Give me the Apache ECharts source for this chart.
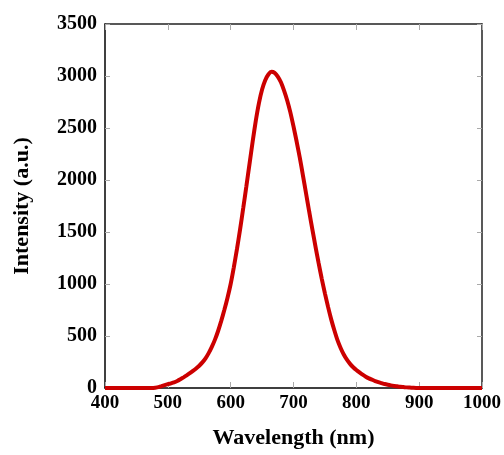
<!DOCTYPE html>
<html>
<head>
<meta charset="utf-8">
<script src="https://cdn.jsdelivr.net/npm/echarts@6/dist/echarts.min.js"></script>
<style>
html,body{margin:0;padding:0;background:#fff;}
#chart{width:504px;height:455px;}
</style>
</head>
<body>
<div id="chart"></div>
<script>
const wavelengths = [400,420,440,460,475,480,485,490,495,500,505,510,515,520,525,530,535,540,545,550,555,560,565,570,575,580,585,590,595,600,605,610,615,620,625,630,635,640,645,650,655,660,665,670,675,680,685,690,695,700,705,710,715,720,725,730,735,740,745,750,755,760,765,770,775,780,785,790,795,800,805,810,815,820,825,830,835,840,845,850,855,860,865,870,875,880,885,890,895,900,950,1000];
const intensity = [0,0,0,0,0,3,8,18,28,37,45,54,67,84,102,121,142,164,188,214,246,285,335,395,465,548,645,752,868,1000,1160,1335,1525,1730,1940,2155,2370,2570,2740,2870,2960,3015,3040,3030,2995,2940,2860,2765,2650,2515,2370,2215,2045,1870,1695,1525,1360,1200,1050,910,780,660,555,460,385,322,272,232,200,173,150,128,109,93,80,67,56,47,38,31,25,20,16,12,9,6,4,2,0,0,0,0];
const xTicks = [400,500,600,700,800,900,1000];
const yTicks = [0,500,1000,1500,2000,2500,3000,3500];
const xTitle = 'Wavelength (nm)';
const yTitle = 'Intensity (a.u.)';

const data = wavelengths.map((w,i)=>[w,intensity[i]]);
const font = 'Liberation Serif';
const chart = echarts.init(document.getElementById('chart'));
const xBase = {
  type:'value', min:xTicks[0], max:xTicks[xTicks.length-1], interval:100,
  splitLine:{show:false},
  axisTick:{show:true, inside:true, length:6, lineStyle:{color:'#aaa', width:1}},
};
const yBase = {
  type:'value', min:yTicks[0], max:yTicks[yTicks.length-1], interval:500,
  splitLine:{show:false},
  axisTick:{show:true, inside:true, length:5, lineStyle:{color:'#aaa', width:1}},
};
chart.setOption({
  animation:false,
  backgroundColor:'#fff',
  grid:{left:105, right:21, top:24, bottom:67},
  xAxis:[
    Object.assign({}, xBase, {
      position:'bottom',
      axisLine:{show:true, onZero:false, lineStyle:{color:'#000', width:1.5}},
      axisLabel:{show:true, margin:6, color:'#000', fontFamily:font, fontWeight:'bold', fontSize:19,
        formatter:v=>String(v)},
      name:xTitle, nameLocation:'middle', nameGap:39,
      nameTextStyle:{color:'#000', fontFamily:font, fontWeight:'bold', fontSize:22}
    }),
    Object.assign({}, xBase, {
      position:'top',
      axisLine:{show:true, onZero:false, lineStyle:{color:'#222', width:1.5}},
      axisLabel:{show:false}
    })
  ],
  yAxis:[
    Object.assign({}, yBase, {
      position:'left',
      axisLine:{show:true, onZero:false, lineStyle:{color:'#000', width:1.5}},
      axisLabel:{show:true, margin:8, color:'#000', fontFamily:font, fontWeight:'bold', fontSize:20,
        formatter:v=>String(v)},
      name:yTitle, nameLocation:'middle', nameGap:72, nameRotate:90,
      nameTextStyle:{color:'#000', fontFamily:font, fontWeight:'bold', fontSize:22}
    }),
    Object.assign({}, yBase, {
      position:'right',
      axisLine:{show:true, onZero:false, lineStyle:{color:'#222', width:1.5}},
      axisLabel:{show:false}
    })
  ],
  series:[{
    type:'line', data:data, xAxisIndex:0, yAxisIndex:0,
    showSymbol:false, symbol:'none', clip:false, smooth:0.2,
    lineStyle:{color:'#cc0000', width:4},
    z:10
  }]
});
</script>
</body>
</html>
